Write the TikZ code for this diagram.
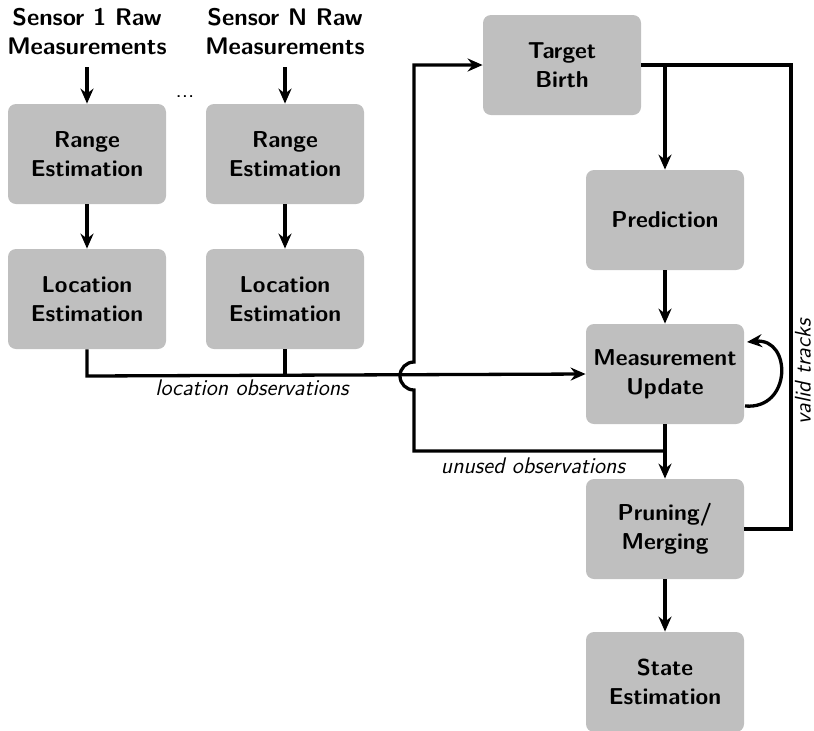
\documentclass[tikz,border=0pt]{standalone}
\usetikzlibrary{arrows.meta}
\begin{document}
\begin{tikzpicture}[x=0.5pt,y=-0.5pt,
  block/.style={draw=none,fill=black!25,rounded corners=4pt,
    minimum width=79pt,minimum height=50pt,align=center,
    font=\fontsize{11.5}{14.5}\selectfont\sffamily\bfseries},
  head/.style={align=center,font=\fontsize{12}{14.5}\selectfont\sffamily\bfseries},
  lbl/.style={font=\fontsize{11.3}{13}\selectfont\sffamily\slshape},
  conn/.style={line width=1.65pt},
  arr/.style={conn,-{Stealth[length=7.5pt,width=6.5pt,inset=2.5pt]}}]
\useasboundingbox (0,0) rectangle (814,730);

% sensor chains
\node[head] (s1) at (87,32) {Sensor 1 Raw\\Measurements};
\node[head] (sN) at (285,32) {Sensor N Raw\\Measurements};
\node[block] (r1) at (87,154) {Range\\Estimation};
\node[block] (rN) at (285,154) {Range\\Estimation};
\node[block] (l1) at (87,299) {Location\\Estimation};
\node[block] (lN) at (285,299) {Location\\Estimation};
\node[head,font=\fontsize{11.5}{12}\selectfont\sffamily] (dots) at (185,97) {...};

% tracking filter
\node[block] (tb) at (562,65) {Target\\Birth};
\node[block] (pred) at (665,220) {Prediction};
\node[block] (mu) at (665,374) {Measurement\\Update};
\node[block] (pm) at (665,529) {Pruning/\\Merging};
\node[block] (se) at (665,682) {State\\Estimation};

\coordinate (obs) at (87,376);
\coordinate (unused) at (665,451);
\coordinate (fb) at (414,65);
\coordinate (vt) at (791,529);
\coordinate (loopa) at (745,406);
\coordinate (loopb) at (747,342);

% sensor arrows
\draw[arr] (s1.south) ++(0,5) -- (r1.north);
\draw[arr] (sN.south) ++(0,5) -- (rN.north);
\draw[arr] (r1) -- (l1);
\draw[arr] (rN) -- (lN);

% location observations into the update
\draw[arr] (l1.south) -- (obs) -- (mu.west);
\draw[conn] (lN.south) -- (lN.south |- obs);
\node[lbl] (lo) at (252,388) {location observations};

% unused observations back to birth, hopping over the observation line
\draw[arr] (unused) -- (414,451) -- (414,390)
  arc[start angle=270,end angle=90,x radius=14,y radius=-14]
  -- (fb) -- (tb.west);
\node[lbl] (uo) at (533,466) {unused observations};

% main chain
\draw[arr] (tb.east) -| (pred.north);
\draw[arr] (pred) -- (mu);
\draw[arr] (mu) -- (pm);
\draw[arr] (pm) -- (se);

% self loop on the update
\draw[arr] (loopa) .. controls (792,410) and (792,338) .. (loopb);

% valid tracks feedback
\draw[conn] (pm.east) -- (vt) |- (tb.east);
\node[lbl,rotate=90] (vtl) at (803,372) {valid tracks};
\end{tikzpicture}
\end{document}
